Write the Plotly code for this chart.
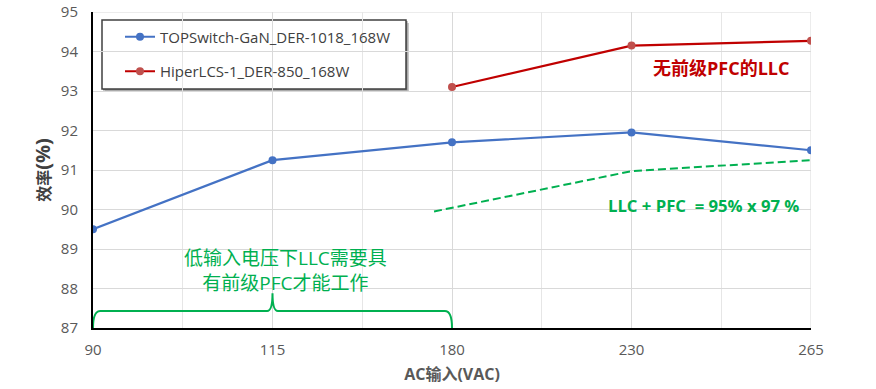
import plotly.graph_objects as go

categories = ["90", "115", "180", "230", "265"]
top_vals = [89.5, 91.25, 91.7, 91.95, 91.5]
hiper_cats = ["180", "230", "265"]
hiper_vals = [93.1, 94.15, 94.27]
pfc_pos = [1.9, 3, 4]
pfc_vals = [89.95, 90.97, 91.25]
y_ticks = [87, 88, 89, 90, 91, 92, 93, 94, 95]

pos = {c: i for i, c in enumerate(categories)}
FONT = "Open Sans, Noto Sans CJK SC, sans-serif"
GRID = "#D9D9D9"
GREEN = "#00B050"
PW, PH = 718, 316
L, T = 93, 12
W, H = 876, 389


def px(x):  # window pixel x -> paper fraction
    return (x - L) / PW


def py(y):  # window pixel y -> paper fraction
    return (T + PH - y) / PH


fig = go.Figure()
fig.add_trace(go.Scatter(
    x=[pos[c] for c in categories], y=top_vals, mode="lines+markers",
    name="TOPSwitch-GaN_DER-1018_168W", legendgroup="a",
    line=dict(color="#4472C4", width=2.2), marker=dict(size=8, color="#4472C4")))
fig.add_trace(go.Scatter(
    x=[pos[c] for c in hiper_cats], y=hiper_vals, mode="lines+markers",
    name="HiperLCS-1_DER-850_168W", legendgroup="b",
    line=dict(color="#C00000", width=2.2), marker=dict(size=8, color="#C0504D")))
fig.add_trace(go.Scatter(
    x=pfc_pos, y=pfc_vals, mode="lines", showlegend=False,
    line=dict(color=GREEN, width=2, dash="8px,4px")))

# edge gridlines (top and right) that plotly drops at the range ends
fig.add_shape(type="line", xref="paper", yref="y", x0=0, x1=1,
              y0=y_ticks[-1], y1=y_ticks[-1], layer="below",
              line=dict(color=GRID, width=1))
fig.add_shape(type="line", xref="x", yref="paper", x0=len(categories) - 1,
              x1=len(categories) - 1, y0=0, y1=1, layer="below",
              line=dict(color=GRID, width=1))

# curly brace
b_lo, b_mid, b_hi = 87.0, 87.43, 87.88
path = (f"M 0,{b_lo} Q 0,{b_mid} 0.04,{b_mid} L 0.97,{b_mid} "
        f"Q 1,{b_mid} 1,{b_hi} Q 1,{b_mid} 1.03,{b_mid} L 1.96,{b_mid} "
        f"Q 2,{b_mid} 2,{b_lo}")
fig.add_shape(type="path", path=path, xref="x", yref="y",
              line=dict(color=GREEN, width=2))

# legend frame with shadow
fig.add_shape(type="rect", xref="paper", yref="paper", layer="between",
              x0=px(105), x1=px(409), y0=py(92), y1=py(23),
              fillcolor="#C8C8C8", line=dict(width=0))
fig.add_shape(type="rect", xref="paper", yref="paper", layer="between",
              x0=px(103), x1=px(407.5), y0=py(90.5), y1=py(21),
              fillcolor="#8C8C8C", line=dict(width=0))
fig.add_shape(type="rect", xref="paper", yref="paper", layer="between",
              x0=px(102), x1=px(406), y0=py(89), y1=py(20),
              fillcolor="white", line=dict(color="#404040", width=1.5))

fig.add_annotation(x=1.07, y=88.45, xref="x", yref="y", showarrow=False,
                   text="低输入电压下LLC需要具<br>有前级PFC才能工作",
                   font=dict(family=FONT, size=19, color=GREEN), align="center")
fig.add_annotation(x=3.5, y=93.57, xref="x", yref="y", showarrow=False,
                   text="<b>无前级PFC的LLC</b>",
                   font=dict(family=FONT, size=18, color="#C00000"))
fig.add_annotation(x=3.4, y=90.1, xref="x", yref="y", showarrow=False,
                   text="<b>LLC + PFC  = 95% x 97 %</b>",
                   font=dict(family=FONT, size=16.7, color=GREEN))

fig.update_layout(
    width=W, height=H,
    margin=dict(l=L, r=W - L - PW, t=T, b=H - T - PH, autoexpand=False),
    paper_bgcolor="white", plot_bgcolor="white",
    font=dict(family=FONT, color="#595959"),
    legend=dict(x=px(120), y=py(20.5), xanchor="left", yanchor="top",
                bgcolor="rgba(0,0,0,0)", borderwidth=0,
                font=dict(family=FONT, size=15, color="#404040"),
                tracegroupgap=12, itemwidth=30),
    xaxis=dict(range=[0, 4], tickmode="array", automargin=False,
               tickvals=[pos[c] for c in categories], ticktext=categories,
               showgrid=True, gridcolor=GRID, gridwidth=1,
               minor=dict(tickvals=[0.5, 1.5, 2.5, 3.5], showgrid=True,
                          gridcolor="#E6E6E6", ticks=""),
               showline=True, linecolor="black", linewidth=2,
               zeroline=False, ticks="", ticklabelstandoff=7,
               ticklabeloverflow="allow",
               tickfont=dict(size=15, color="#595959"),
               title=dict(text="<b>AC输入(VAC)</b>", standoff=11,
                          font=dict(size=16, color="#595959"))),
    yaxis=dict(range=[87, 95], tickvals=y_ticks, automargin=False,
               showgrid=True, gridcolor=GRID, gridwidth=1,
               showline=True, linecolor="black", linewidth=2,
               zeroline=False, ticks="", ticklabelstandoff=10,
               ticklabeloverflow="allow",
               tickfont=dict(size=15, color="#595959"),
               title=dict(text="<b>效率<span style='font-size:20px'>(%)</span></b>",
                          standoff=6,
                          font=dict(size=16, color="#404040"))),
)

fig.write_html("out.html",
               config={"displayModeBar": False},
               post_script="document.body.style.margin='0';"
                           "document.documentElement.style.overflow='hidden';")
